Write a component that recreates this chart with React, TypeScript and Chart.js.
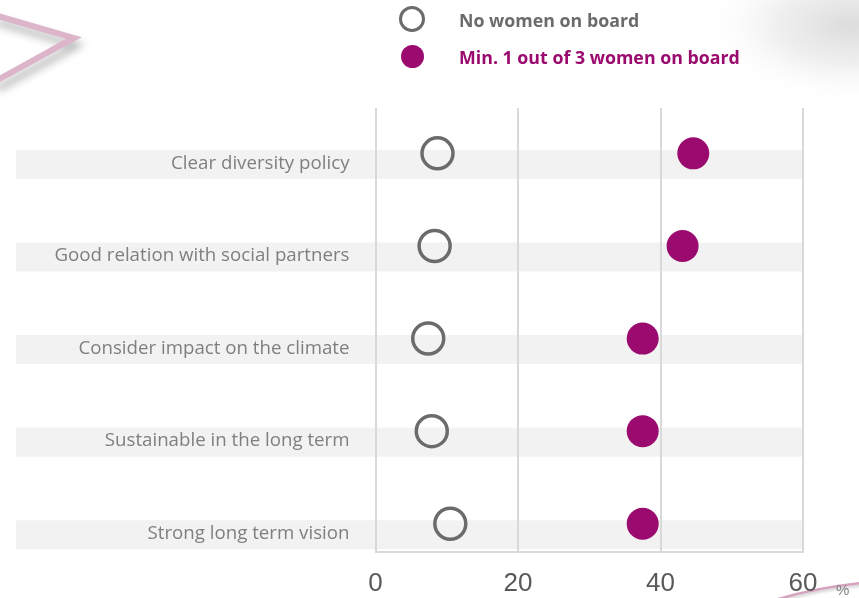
import React, { useEffect, useRef } from "react";
import { Chart, registerables } from "chart.js";

Chart.register(...registerables);

const categories = [
  "Clear diversity policy",
  "Good relation with social partners",
  "Consider impact on the climate",
  "Sustainable in the long term",
  "Strong long term vision",
];
const noWomen = [8.7, 8.3, 7.4, 7.9, 10.5];
const minOneThird = [44.6, 43.1, 37.5, 37.5, 37.5];
const xTicks = [0, 20, 40, 60];
const seriesLabels = ["No women on board", "Min. 1 out of 3 women on board"];
const unitLabel = "%";

const GREY = "#6b6b6b";
const PURPLE = "#9B0A6E";

const decorPlugin = {
  id: "decor",
  beforeDraw(chart: any) {
    const ctx = chart.ctx as CanvasRenderingContext2D;
    const { chartArea, scales } = chart;
    ctx.save();
    ctx.fillStyle = "#ffffff";
    ctx.fillRect(0, 0, chart.width, chart.height);

    // top-right soft grey glow
    ctx.save();
    ctx.translate(850, 25);
    ctx.scale(1.5, 0.8);
    const g = ctx.createRadialGradient(0, 0, 5, 0, 0, 100);
    g.addColorStop(0, "rgba(218,218,218,0.9)");
    g.addColorStop(0.45, "rgba(228,228,228,0.6)");
    g.addColorStop(1, "rgba(255,255,255,0)");
    ctx.fillStyle = g;
    ctx.beginPath();
    ctx.arc(0, 0, 100, 0, Math.PI * 2);
    ctx.fill();
    ctx.restore();

    // top-left pink chevron with shadow
    ctx.save();
    ctx.shadowColor = "rgba(0,0,0,0.3)";
    ctx.shadowBlur = 8;
    ctx.shadowOffsetX = 3;
    ctx.shadowOffsetY = 7;
    ctx.strokeStyle = "#ddb5cb";
    ctx.lineWidth = 6;
    ctx.lineJoin = "miter";
    ctx.beginPath();
    ctx.moveTo(-6, 15);
    ctx.lineTo(74, 38);
    ctx.lineTo(-6, 82);
    ctx.stroke();
    ctx.restore();

    // bottom-right pink swoosh
    ctx.save();
    ctx.shadowColor = "rgba(0,0,0,0.2)";
    ctx.shadowBlur = 3;
    ctx.shadowOffsetY = 2;
    ctx.strokeStyle = "#d6a3bf";
    ctx.lineWidth = 2.5;
    ctx.beginPath();
    ctx.moveTo(775, 600);
    ctx.quadraticCurveTo(815, 588, 862, 583);
    ctx.stroke();
    ctx.restore();

    // light grey bands behind each category
    const y = scales.y;
    ctx.fillStyle = "#f2f2f2";
    categories.forEach((_, i) => {
      const py = y.getPixelForValue(i);
      ctx.fillRect(16, py - 3.5, chartArea.right - 16, 29);
    });
    ctx.restore();
  },
};

export default function App() {
  const ref = useRef<HTMLCanvasElement | null>(null);

  useEffect(() => {
    if (!ref.current) return;
    const chart = new Chart(ref.current, {
      type: "scatter",
      data: {
        datasets: [
          {
            label: seriesLabels[0],
            data: noWomen.map((x, i) => ({ x, y: i })),
            pointRadius: 15.5,
            pointHoverRadius: 15.5,
            borderWidth: 3.5,
            pointBorderWidth: 3.5,
            borderColor: GREY,
            backgroundColor: "rgba(255,255,255,0)",
          },
          {
            label: seriesLabels[1],
            data: minOneThird.map((x, i) => ({ x, y: i })),
            pointRadius: 16,
            pointHoverRadius: 16,
            borderWidth: 0,
            pointBorderWidth: 0,
            borderColor: PURPLE,
            backgroundColor: PURPLE,
          },
        ],
      },
      options: {
        animation: false,
        responsive: false,
        devicePixelRatio: 1,
        layout: { padding: { top: 108, right: 56, left: 0, bottom: 0 } },
        plugins: { legend: { display: false }, tooltip: { enabled: false } },
        scales: {
          x: {
            type: "linear",
            position: "bottom",
            min: 0,
            max: 60,
            afterBuildTicks: (s: any) => {
              s.ticks = xTicks.map((v) => ({ value: v }));
            },
            afterFit: (s: any) => {
              s.height = 46;
            },
            ticks: {
              font: { family: "'Liberation Sans', Arial, sans-serif", size: 26 },
              color: "#595959",
              padding: 16,
              maxRotation: 0,
            },
            grid: { color: "#d9d9d9", lineWidth: 2, drawTicks: false },
            border: { display: true, color: "#d9d9d9", width: 2 },
          },
          y: {
            type: "linear",
            reverse: true,
            min: -0.49,
            max: 4.305,
            afterBuildTicks: (s: any) => {
              s.ticks = categories.map((_, i) => ({ value: i }));
            },
            afterFit: (s: any) => {
              s.width = 375.5;
            },
            ticks: {
              callback: (v: any) => categories[v as number],
              font: { family: "'Open Sans', sans-serif", size: 18.7 },
              color: "#7f7f7f",
              padding: 26,
              labelOffset: 10,
              autoSkip: false,
            },
            grid: { display: false, drawTicks: false },
            border: { display: false },
          },
        },
      },
      plugins: [decorPlugin],
    });
    return () => chart.destroy();
  }, []);

  const legendText: React.CSSProperties = {
    position: "absolute",
    left: 459,
    height: 24,
    lineHeight: "24px",
    fontFamily: "'Open Sans', sans-serif",
    fontWeight: 700,
    fontSize: 17.8,
    whiteSpace: "nowrap",
  };

  return (
    <div style={{ position: "absolute", left: 0, top: 0, width: 859, height: 598, overflow: "hidden", background: "#fff" }}>
      <canvas ref={ref} width={859} height={598} style={{ display: "block", width: 859, height: 598 }} />
      <div
        style={{
          position: "absolute",
          left: 399,
          top: 6,
          width: 26,
          height: 26,
          boxSizing: "border-box",
          border: `3.5px solid ${GREY}`,
          borderRadius: "50%",
        }}
      />
      <div style={{ ...legendText, top: 7.5, color: GREY }}>{seriesLabels[0]}</div>
      <div
        style={{
          position: "absolute",
          left: 401,
          top: 45,
          width: 23,
          height: 23,
          borderRadius: "50%",
          background: PURPLE,
        }}
      />
      <div style={{ ...legendText, top: 45, color: PURPLE }}>{seriesLabels[1]}</div>
      <div
        style={{
          position: "absolute",
          left: 836,
          top: 581,
          fontFamily: "'Liberation Sans', Arial, sans-serif",
          fontSize: 15,
          lineHeight: "18px",
          color: "#7f7f7f",
        }}
      >
        {unitLabel}
      </div>
    </div>
  );
}
